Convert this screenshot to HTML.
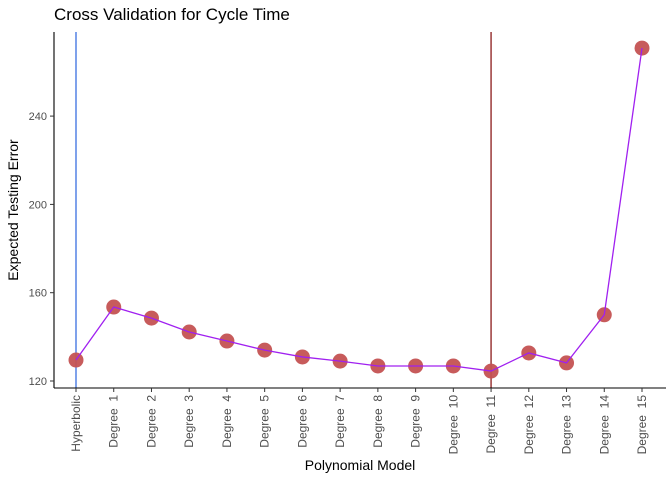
<!DOCTYPE html>
<html><head><meta charset="utf-8"><style>
body{margin:0;background:#fff;font-family:"Liberation Sans",sans-serif}
</style></head><body>
<svg id="c" width="672" height="480" xmlns="http://www.w3.org/2000/svg">
<text x="54" y="20" font-size="17" fill="#000">Cross Validation for Cycle Time</text>
<text x="360" y="470" font-size="14" text-anchor="middle">Polynomial Model</text>
<text transform="translate(18,210) rotate(-90)" font-size="14" text-anchor="middle">Expected Testing Error</text>
<g id="g"></g>
</svg>
<script>
const categories=["Hyperbolic","Degree  1","Degree  2","Degree  3","Degree  4","Degree  5","Degree  6","Degree  7","Degree  8","Degree  9","Degree  10","Degree  11","Degree  12","Degree  13","Degree  14","Degree  15"];
const errors=[129.5,153.5,148.5,142.2,138.1,134,130.9,129,126.8,126.8,126.8,124.5,132.7,128.2,150,270.8];
const yTicks=[120,160,200,240];
const blueLineIndex=0;
const redLineIndex=11;
const NS="http://www.w3.org/2000/svg";
const g=document.getElementById('g');
const x=i=>76+i*(642-76)/15;
const y=v=>381-(v-120)*2.2075;
function mk(t,a){const e=document.createElementNS(NS,t);for(const k in a)e.setAttribute(k,a[k]);g.appendChild(e);return e;}
let e;
e=mk('line',{x1:x(blueLineIndex),x2:x(blueLineIndex),y1:32,y2:388,stroke:'#3a6fe0','stroke-width':1.3});


e=mk('line',{x1:x(redLineIndex),x2:x(redLineIndex),y1:32,y2:388,stroke:'#8b1a1a','stroke-width':1.3});


e=mk('line',{x1:54,x2:54,y1:32,y2:388,stroke:'#000','stroke-width':1.1});


e=mk('line',{x1:54,x2:666,y1:388,y2:388,stroke:'#000','stroke-width':1.1});


yTicks.forEach(v=>{
 e=mk('line',{x1:50,x2:54,y1:y(v),y2:y(v),stroke:'#333'});
 
 
 e=mk('text',{x:47,y:y(v)+4,'font-size':11,fill:'#4d4d4d','text-anchor':'end'});e.textContent=v;
 
 
});
categories.forEach((c,i)=>{
 e=mk('line',{x1:x(i),x2:x(i),y1:388,y2:392,stroke:'#333'});
 
 
 e=mk('text',{transform:`translate(${x(i)+4},395) rotate(-90)`,'font-size':12,fill:'#4d4d4d','text-anchor':'end','xml:space':'preserve'});e.textContent=c;
 e.style.whiteSpace='pre';
 
 
});
errors.forEach((v,i)=>{
 e=mk('circle',{cx:x(i),cy:y(v),r:7.5,fill:'#c45252','fill-opacity':0.95});
 
 
});
e=mk('polyline',{points:errors.map((v,i)=>x(i)+','+y(v)).join(' '),fill:'none',stroke:'#a020f0','stroke-width':1.3});


</script>
</body></html>
